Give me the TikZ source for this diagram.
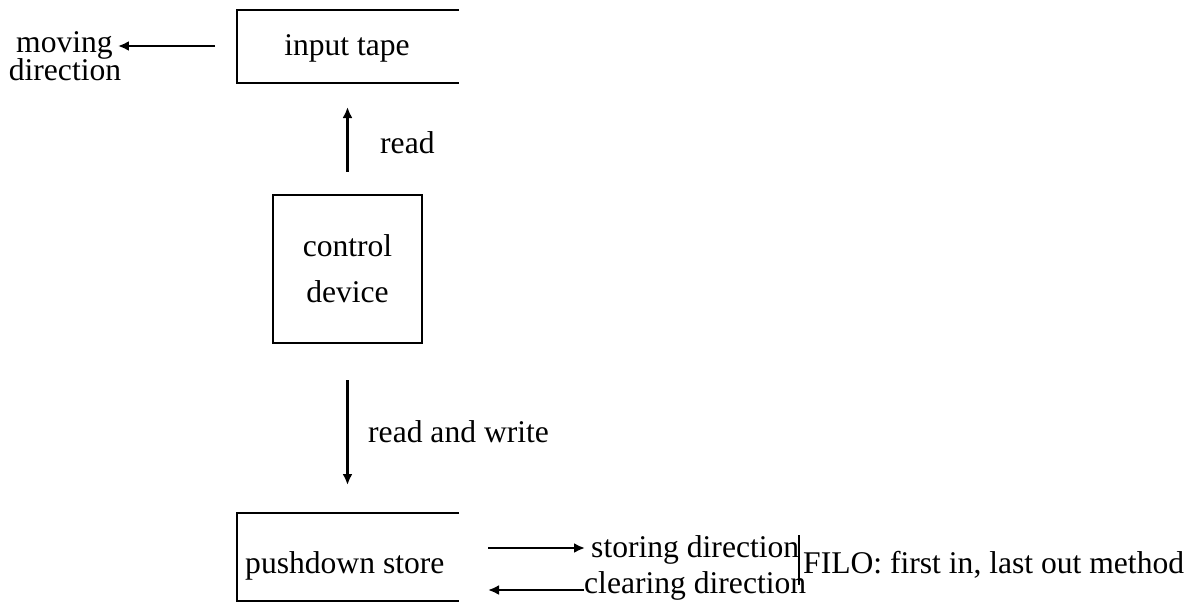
\documentclass[tikz,border=0pt]{standalone}
\usepackage{fontspec}
\setmainfont{Liberation Serif}
\usetikzlibrary{arrows.meta}
\begin{document}
\begin{tikzpicture}[x=1pt,y=-1pt,
  txt/.style={inner sep=0pt, font=\fontsize{31.6}{34}\selectfont},
  frame/.style={line width=2.8pt},
  arr/.style={line width=2.3pt,-{Latex[length=11pt,width=10pt]}},
  bar/.style={line width=2pt}]
\useasboundingbox (0,0) rectangle (1188,603);

% input tape (open box)
\node[txt,anchor=base] (tape) at (347,55) {input tape};
\coordinate (tapeTR) at (459,10);
\coordinate (tapeTL) at (237,10);
\coordinate (tapeBL) at (237,83);
\coordinate (tapeBR) at (459,83);
\coordinate (tapebot) at (348,83);
\draw[frame] (tapeTR) -- (tapeTL) -- (tapeBL) -- (tapeBR);

% moving direction
\node[txt,anchor=base west] (moving) at (16,52) {moving};
\node[txt,anchor=base] (movdir) at (65,80) {direction};
\coordinate (mvstart) at (215,46);
\draw[arr, shorten >=5pt] (mvstart) -- (mvstart -| moving.east);

% control device
\node[draw, frame, minimum width=149pt, minimum height=148pt, inner sep=0pt,
      align=center, font=\fontsize{31.6}{46}\selectfont] (ctrl) at (347.5,269) {control\\device};

% read arrow
\draw[arr, shorten <=22pt, shorten >=24pt] (ctrl.north) -- (ctrl.north |- tapebot);
\node[txt,anchor=base west] (read) at (380,153) {read};

% pushdown store (open box)
\node[txt,anchor=base west] (push) at (245,573) {pushdown store};
\coordinate (pushTR) at (459,513);
\coordinate (pushTL) at (237,513);
\coordinate (pushBL) at (237,601);
\coordinate (pushBR) at (459,601);
\coordinate (pushtop) at (348,513);
\draw[frame] (pushTR) -- (pushTL) -- (pushBL) -- (pushBR);

% read and write arrow
\draw[arr, shorten <=36pt, shorten >=28pt] (ctrl.south) -- (ctrl.south |- pushtop);
\node[txt,anchor=base west] (rw) at (368,442) {read and write};

% storing / clearing
\node[txt,anchor=base west] (storing) at (591,557) {storing direction};
\node[txt,anchor=base west] (clearing) at (584,593) {clearing direction};
\coordinate (st0) at (488,548);
\coordinate (cl0) at (488,590);
\draw[arr, shorten >=6pt] (st0) -- (st0 -| storing.west);
\draw[arr] (cl0 -| clearing.west) -- (cl0);

% FILO
\coordinate (barTop) at (799,535);
\coordinate (barBot) at (799,585);
\draw[bar] (barTop) -- (barBot);
\node[txt,anchor=base west] (filo) at (803,573) {FILO: first in, last out method};
\end{tikzpicture}
\end{document}
